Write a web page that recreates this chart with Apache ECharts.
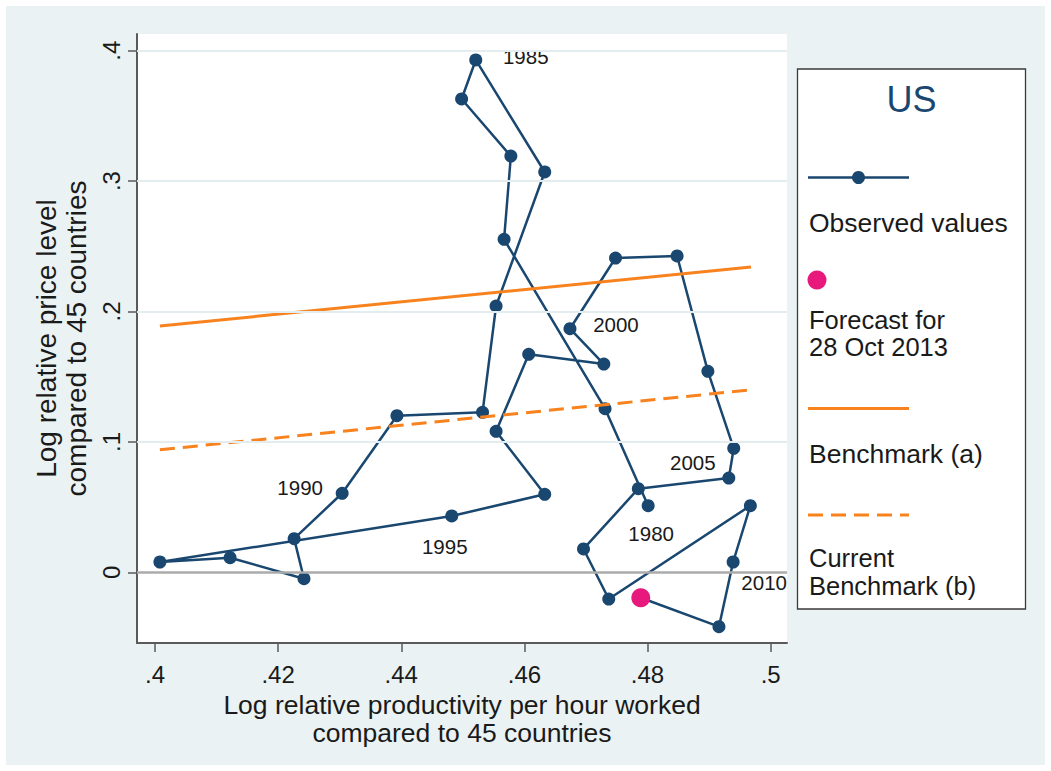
<!DOCTYPE html>
<html>
<head>
<meta charset="utf-8">
<script src="https://cdn.jsdelivr.net/npm/echarts@6/dist/echarts.min.js"></script>
<style>
html,body{margin:0;padding:0;background:#fff;}
#chart{width:1051px;height:771px;}
</style>
</head>
<body>
<div id="chart"></div>
<script>
// ---- Data ----
const years = [1980,1981,1982,1983,1984,1985,1986,1987,1988,1989,
               1990,1991,1992,1993,1994,1995,1996,1997,1998,1999,
               2000,2001,2002,2003,2004,2005,2006,2007,2008,2009,
               2010,2011];
const productivity = [0.4801,0.4731,0.4567,0.4578,0.4498,0.4521,0.4633,0.4554,0.4532,0.4393,
                      0.4304,0.4226,0.4242,0.4122,0.4008,0.4482,0.4633,0.4554,0.4607,0.4729,
                      0.4674,0.4748,0.4848,0.4898,0.4940,0.4932,0.4785,0.4696,0.4737,0.4967,
                      0.4939,0.4916];
const priceLevel = [0.0511,0.1255,0.2554,0.3192,0.3630,0.3929,0.3070,0.2042,0.1227,0.1201,
                    0.0606,0.0258,-0.0049,0.0112,0.0079,0.0432,0.0598,0.1081,0.1672,0.1597,
                    0.1868,0.2410,0.2426,0.1541,0.0951,0.0723,0.0641,0.0179,-0.0205,0.0511,
                    0.0079,-0.0417];
const forecastX = [0.4789];
const forecastY = [-0.0195];
const benchAX = [0.4008, 0.4968];
const benchAY = [0.1889, 0.2341];
const benchBX = [0.4008, 0.4966];
const benchBY = [0.0940, 0.1398];
const labeledYears = [1980,1985,1990,1995,2000,2005,2010];
const xTicks = [0.4,0.42,0.44,0.46,0.48,0.5];
const xTickLabels = ['.4','.42','.44','.46','.48','.5'];
const yTicks = [0,0.1,0.2,0.3,0.4];
const yTickLabels = ['0','.1','.2','.3','.4'];
const legendTitle = 'US';
const seriesNames = ['Observed values','Forecast for 28 Oct 2013','Benchmark (a)','Current Benchmark (b)'];
const legendLines = [['Observed values'],['Forecast for','28 Oct 2013'],['Benchmark (a)'],['Current','Benchmark (b)']];
const xTitle = 'Log relative productivity per hour worked\ncompared to 45 countries';
const yTitle = 'Log relative price level\ncompared to 45 countries';

// ---- Styles ----
const FONT = "'Liberation Sans', Arial, Helvetica, sans-serif";
const NAVY = '#1a476f';
const ORANGE = '#f7821e';
const PINK = '#e8197c';
const TXT = '#1a1a1a';
const AXIS = '#5a5a5a';
// label offsets (label centre relative to point) for the year labels
const labelOffsets = {1980:[3,28],1985:[50,-3],1990:[-42,-6],1995:[-7,31],2000:[46,-4],2005:[-36,-16],2010:[31,21]};

const observedData = years.map((yr,i) => {
  const item = {value:[productivity[i], priceLevel[i]], name:String(yr)};
  if (labeledYears.indexOf(yr) >= 0) {
    item.label = {show:true, position:'inside', offset:labelOffsets[yr], formatter:String(yr),
      color:TXT, fontSize:20.5, fontFamily:FONT};
  }
  return item;
});
// the observed path runs on to the forecast point
observedData.push({value:[forecastX[0], forecastY[0]], symbol:'none'});

const fmt = (ticks, labels) => v => {
  const i = ticks.findIndex(t => Math.abs(t - v) < 1e-9);
  return i >= 0 ? labels[i] : '';
};

const chart = echarts.init(document.getElementById('chart'), null, {renderer:'svg'});

// legend layout (positions only)
const legendX = 808, legendLineEnd = 909, legendTextX = 809;
const legendTextY = [[222.5],[320,347],[453.5],[558,586]];
const legendText = [];
legendLines.forEach((lines, k) => {
  lines.forEach((t, j) => {
    legendText.push({type:'text', silent:true, x:legendTextX, y:legendTextY[k][j],
      style:{text:t, font:(lines.length > 1 ? '25.5px ' : '26.5px ') + FONT, fill:TXT, align:'left', verticalAlign:'middle'}});
  });
});

const option = {
  animation:false,
  backgroundColor:'#ffffff',
  grid:{left:137, right:264, top:34, bottom:128, show:true, backgroundColor:'#ffffff', borderWidth:0},
  xAxis:{
    type:'value', min:0.39708, max:0.50265,
    name:xTitle, nameLocation:'middle', nameGap:32,
    nameTextStyle:{fontSize:26.5, lineHeight:28, color:TXT, fontFamily:FONT},
    axisLine:{show:true, onZero:false, lineStyle:{color:AXIS, width:2}},
    axisTick:{show:true, length:9, customValues:xTicks, lineStyle:{color:AXIS, width:1.5}},
    axisLabel:{customValues:xTicks, formatter:fmt(xTicks,xTickLabels), margin:19,
      fontSize:24, lineHeight:24, color:TXT, fontFamily:FONT},
    splitLine:{show:false}
  },
  yAxis:{
    type:'value', min:-0.05422, max:0.41281,
    name:yTitle, nameLocation:'middle', nameGap:35, nameRotate:90,
    nameTextStyle:{fontSize:28, lineHeight:30, color:TXT, fontFamily:FONT},
    axisLine:{show:true, onZero:false, lineStyle:{color:AXIS, width:2}},
    axisTick:{show:true, length:9, customValues:yTicks, lineStyle:{color:AXIS, width:1.5}},
    axisLabel:{customValues:yTicks, formatter:fmt(yTicks,yTickLabels), rotate:90, margin:14,
      fontSize:24, lineHeight:24, color:TXT, fontFamily:FONT},
    splitLine:{show:false}
  },
  series:[
    {
      type:'line', data:[], silent:true, z:1,
      markLine:{silent:true, symbol:'none', label:{show:false},
        data: yTicks.map(v => ({yAxis:v, lineStyle: v === 0
          ? {color:'#ababab', width:2.5, type:'solid'}
          : {color:'#e3ecef', width:2, type:'solid'}}))}
    },
    {
      name:seriesNames[0], type:'line', data:observedData, z:3,
      showAllSymbol:true, symbol:'circle', symbolSize:13,
      lineStyle:{color:NAVY, width:2.5},
      itemStyle:{color:NAVY},
      label:{show:false}
    },
    {
      name:seriesNames[2], type:'line', z:4, symbol:'none',
      data:benchAX.map((x,i)=>[x, benchAY[i]]),
      lineStyle:{color:ORANGE, width:3}
    },
    {
      name:seriesNames[3], type:'line', z:4, symbol:'none',
      data:benchBX.map((x,i)=>[x, benchBY[i]]),
      lineStyle:{color:ORANGE, width:3, type:[15,8]}
    },
    {
      name:seriesNames[1], type:'scatter', z:5, symbol:'circle', symbolSize:19,
      data:forecastX.map((x,i)=>[x, forecastY[i]]),
      itemStyle:{color:PINK, opacity:1}
    }
  ],
  graphic:[
    {type:'rect', z:-100, silent:true, shape:{x:6,y:6,width:1039,height:759}, style:{fill:'#eaf2f3'}},
    {type:'rect', silent:true, shape:{x:797.5,y:69,width:228,height:540}, style:{fill:'#ffffff', stroke:'#3a3a3a', lineWidth:1.3}},
    {type:'text', silent:true, x:911.5, y:99, style:{text:legendTitle, font:"36px "+FONT, fill:NAVY, align:'center', verticalAlign:'middle'}},
    {type:'line', silent:true, shape:{x1:legendX,y1:177.5,x2:legendLineEnd,y2:177.5}, style:{stroke:NAVY, lineWidth:2.5}},
    {type:'circle', silent:true, shape:{cx:858.5,cy:177.5,r:6.5}, style:{fill:NAVY}},
    {type:'circle', silent:true, shape:{cx:817,cy:280,r:9.5}, style:{fill:PINK}},
    {type:'line', silent:true, shape:{x1:legendX,y1:408.5,x2:legendLineEnd,y2:408.5}, style:{stroke:ORANGE, lineWidth:3}},
    {type:'line', silent:true, shape:{x1:legendX,y1:515,x2:legendLineEnd,y2:515}, style:{stroke:ORANGE, lineWidth:3, lineDash:[15,8]}}
  ].concat(legendText)
};
chart.setOption(option);
</script>
</body>
</html>
